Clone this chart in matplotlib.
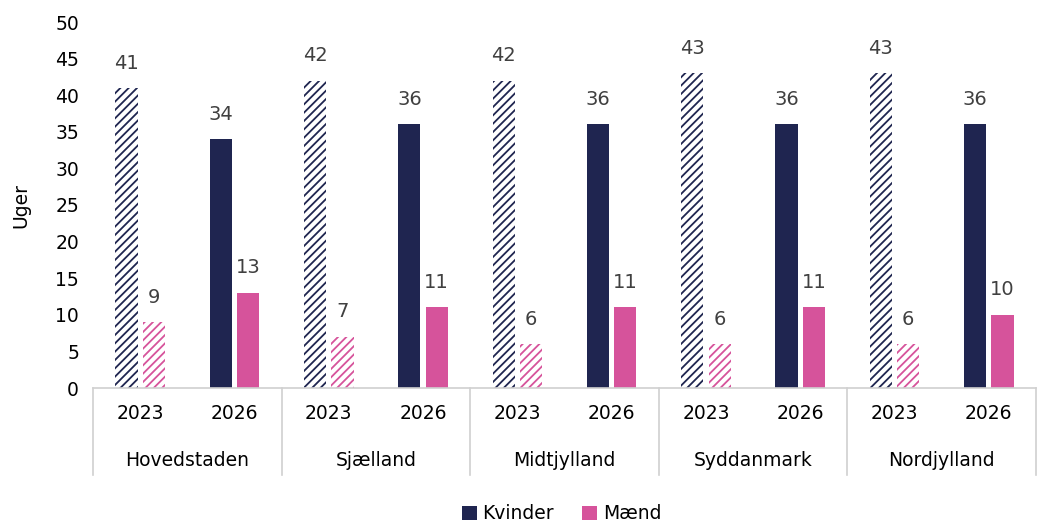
import numpy as np
import matplotlib
matplotlib.use("Agg")
import matplotlib.pyplot as plt
from matplotlib.patches import Patch
import matplotlib.transforms as mtransforms

regions = ["Hovedstaden", "Sjælland", "Midtjylland", "Syddanmark", "Nordjylland"]
years = ["2023", "2026"]
kvinder_2023 = [41, 42, 42, 43, 43]
maend_2023 = [9, 7, 6, 6, 6]
kvinder_2026 = [34, 36, 36, 36, 36]
maend_2026 = [13, 11, 11, 11, 10]

navy = "#1F2550"
pink = "#D6539B"
label_gray = "#404040"
line_gray = "#D0D0D0"

plt.rcParams['font.family'] = ['DejaVu Sans']
plt.rcParams['hatch.linewidth'] = 1.3

fig = plt.figure(figsize=(10.4, 5.22), dpi=100)
ax = fig.add_axes([93 / 1040, 1 - 388 / 522, (1036 - 93) / 1040, 366 / 522])

bw = 0.235
off = 0.145
fs = 13.5
lfs = 14

trans = mtransforms.blended_transform_factory(ax.transData, ax.transAxes)

for g in range(len(regions)):
    for j, yr in enumerate(years):
        c = 2 * g + j + 0.5
        if j == 0:
            kv, ma = kvinder_2023[g], maend_2023[g]
            ax.bar(c - off, kv, bw, color="white", edgecolor=navy, hatch="////", linewidth=0)
            ax.bar(c + off, ma, bw, color="white", edgecolor=pink, hatch="////", linewidth=0)
        else:
            kv, ma = kvinder_2026[g], maend_2026[g]
            ax.bar(c - off, kv, bw, color=navy, linewidth=0)
            ax.bar(c + off, ma, bw, color=pink, linewidth=0)
        ax.text(c - off, kv + 2.1, str(kv), ha="center", va="bottom", fontsize=lfs, color=label_gray)
        ax.text(c + off, ma + 2.1, str(ma), ha="center", va="bottom", fontsize=lfs, color=label_gray)
        ax.text(c, -0.071, yr, transform=trans, ha="center", va="center", fontsize=fs, color="black")
    ax.text(2 * g + 1, -0.197, regions[g], transform=trans,
            ha="center", va="center", fontsize=fs, color="black")

for xb in range(0, 11, 2):
    ax.plot([xb, xb], [0, -0.238], transform=trans, color=line_gray, lw=1.2, clip_on=False)

ax.set_xlim(0, 10)
ax.set_ylim(0, 50)
ax.set_yticks(np.arange(0, 51, 5))
ax.set_xticks([])
ax.tick_params(axis="y", length=0, labelsize=fs, pad=10)
for s in ["top", "right", "left"]:
    ax.spines[s].set_visible(False)
ax.spines["bottom"].set_color(line_gray)
ax.spines["bottom"].set_linewidth(1.2)
ax.set_ylabel("Uger", fontsize=fs, labelpad=18)

handles = [Patch(facecolor=navy, label="Kvinder"), Patch(facecolor=pink, label="Mænd")]
fig.legend(handles=handles, loc="lower center", bbox_to_anchor=(0.54, -0.035), ncol=2,
           frameon=False, fontsize=fs, handlelength=0.8, handleheight=0.8,
           handletextpad=0.3, columnspacing=1.5)

fig.savefig("out.png", dpi=100)
